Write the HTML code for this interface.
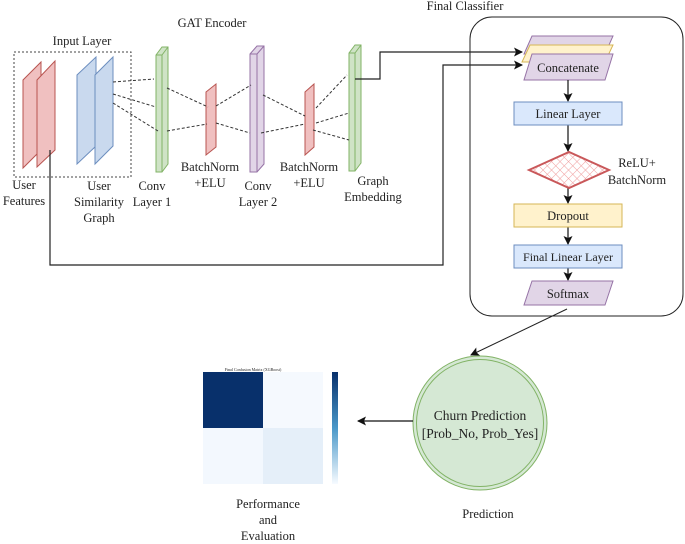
<!DOCTYPE html>
<html><head><style>body{margin:0;background:#fff}svg{display:block}text{font-family:"Liberation Serif",serif;font-size:12.5px;fill:#222}</style></head><body>
<svg width="685" height="544" viewBox="0 0 685 544" xmlns="http://www.w3.org/2000/svg">
<defs>
<marker id="a" markerWidth="9" markerHeight="9" refX="8" refY="4.5" orient="auto" markerUnits="userSpaceOnUse"><path d="M0,0L9,4.5L0,9L2,4.5z" fill="#111"/></marker>
<pattern id="h" width="6" height="6" patternUnits="userSpaceOnUse" patternTransform="rotate(45)"><rect width="6" height="6" fill="#fff"/><path d="M0,0V6M0,0H6" stroke="#f0a0a0" stroke-width="1"/></pattern>
<linearGradient id="cb" x1="0" y1="0" x2="0" y2="1"><stop offset="0" stop-color="#08306b"/><stop offset="0.5" stop-color="#4a98c9"/><stop offset="1" stop-color="#f7fbff"/></linearGradient>
</defs>
<text x="212" y="27" text-anchor="middle">GAT Encoder</text>
<text x="82" y="45" text-anchor="middle">Input Layer</text>
<rect x="14" y="52" width="117" height="125" fill="none" stroke="#444" stroke-dasharray="2,2"/>
<g stroke="#b85450" fill="#f0c0c0"><polygon points="23,80 41,62 41,150 23,168"/><polygon points="37,80 55,61 55,150 37,167"/></g>
<g stroke="#6c8ebf" fill="#c9d9ee"><polygon points="77,75 96,57 96,146 77,164"/><polygon points="95,75 113,57 113,146 95,164"/></g>
<g stroke="#82b366" fill="#cfe3c6"><polygon points="156,55 162,47 168,47 168,164 162,172 156,172"/><path d="M156,55H162V172M162,55L168,47" fill="none"/></g>
<g stroke="#b85450" fill="#f0c0c0"><polygon points="206,92 216,84 216,147 206,155"/></g>
<g stroke="#9673a6" fill="#e1d5e7"><polygon points="250,54 257,46 264,46 264,164 257,172 250,172"/><path d="M250,54H257V172M257,54L264,46" fill="none"/></g>
<g stroke="#b85450" fill="#f0c0c0"><polygon points="305,92 314,84 314,147 305,155"/></g>
<g stroke="#82b366" fill="#cfe3c6"><polygon points="349,53 355,45 361,45 361,163 355,171 349,171"/><path d="M349,53H355V171M355,53L361,45" fill="none"/></g>
<g stroke="#333" stroke-dasharray="3,2" fill="none">
<path d="M113,82L154,79M113,94L156,107M113,103L158,131M167,88L208,107M167,131L207,124M216,106L251,85M216,123L250,133M263,95L305,116M261,133L305,124M316,108L347,75M316,123L349,113M313,130L349,140"/></g>
<g text-anchor="middle"><text x="24" y="189">User</text><text x="24" y="205">Features</text>
<text x="99" y="190">User</text><text x="99" y="206">Similarity</text><text x="99" y="222">Graph</text>
<text x="152" y="190">Conv</text><text x="152" y="206">Layer 1</text>
<text x="210" y="171">BatchNorm</text><text x="210" y="187">+ELU</text>
<text x="258" y="190">Conv</text><text x="258" y="206">Layer 2</text>
<text x="309" y="171">BatchNorm</text><text x="309" y="187">+ELU</text>
<text x="373" y="185">Graph</text><text x="373" y="201">Embedding</text></g>
<g stroke="#222" stroke-width="1.2" fill="none">
<path d="M355,79H380V52H522" marker-end="url(#a)"/>
<path d="M50,150V265H443V65H522" marker-end="url(#a)"/></g>
<text x="465" y="10" text-anchor="middle">Final Classifier</text>
<rect x="470" y="17" width="213" height="299" rx="22" fill="none" stroke="#222"/>
<polygon points="532,36 613,36 605,54 524,54" fill="#e1d5e7" stroke="#9673a6"/>
<polygon points="530,45 613,45 605,62 522,62" fill="#fff2cc" stroke="#d6b656"/>
<polygon points="532,54 613,54 605,80 524,80" fill="#e1d5e7" stroke="#9673a6"/>
<text x="568" y="72" text-anchor="middle">Concatenate</text>
<g stroke="#111" stroke-width="1.2" marker-end="url(#a)">
<path d="M568,80V101"/><path d="M568,125V151"/><path d="M568,188V203"/><path d="M568,227V244"/><path d="M568,268V280"/></g>
<rect x="514" y="102" width="108" height="23" fill="#dae8fc" stroke="#6c8ebf"/><text x="568" y="118" text-anchor="middle">Linear Layer</text>
<polygon points="529,170 569,152 609,170 569,188" fill="url(#h)" stroke="#c9585a" stroke-width="2"/>
<text x="637" y="167" text-anchor="middle">ReLU+</text><text x="637" y="184" text-anchor="middle">BatchNorm</text>
<rect x="514" y="204" width="108" height="23" fill="#fff2cc" stroke="#d6b656"/><text x="568" y="220" text-anchor="middle">Dropout</text>
<rect x="514" y="245" width="108" height="23" fill="#dae8fc" stroke="#6c8ebf"/><text x="568" y="261" text-anchor="middle" style="font-size:12px">Final Linear Layer</text>
<polygon points="532,281 613,281 605,305 524,305" fill="#e1d5e7" stroke="#9673a6"/><text x="568" y="298" text-anchor="middle">Softmax</text>
<path d="M567,309L471,355" stroke="#222" fill="none" marker-end="url(#a)"/>
<circle cx="480" cy="423" r="67" fill="#d5e8d4" stroke="#82b366"/><circle cx="480" cy="423" r="63.5" fill="none" stroke="#82b366"/>
<text x="480" y="420" text-anchor="middle" style="font-size:13.5px">Churn Prediction</text><text x="480" y="438" text-anchor="middle" style="font-size:13.5px">[Prob_No, Prob_Yes]</text>
<text x="488" y="518" text-anchor="middle">Prediction</text>
<path d="M413,421H358" stroke="#111" stroke-width="1.2" marker-end="url(#a)"/>
<text x="253" y="371" text-anchor="middle" style="font-size:4px">Final Confusion Matrix (XGBoost)</text>
<rect x="203" y="372" width="60" height="56" fill="#08306b"/>
<rect x="263" y="372" width="60" height="56" fill="#f5f9fe"/>
<rect x="203" y="428" width="60" height="56" fill="#f3f8fe"/>
<rect x="263" y="428" width="60" height="56" fill="#e5eff9"/>
<rect x="332" y="372" width="6" height="112" fill="url(#cb)"/>
<text x="268" y="508" text-anchor="middle">Performance</text><text x="268" y="524" text-anchor="middle">and</text><text x="268" y="540" text-anchor="middle">Evaluation</text>
</svg></body></html>
